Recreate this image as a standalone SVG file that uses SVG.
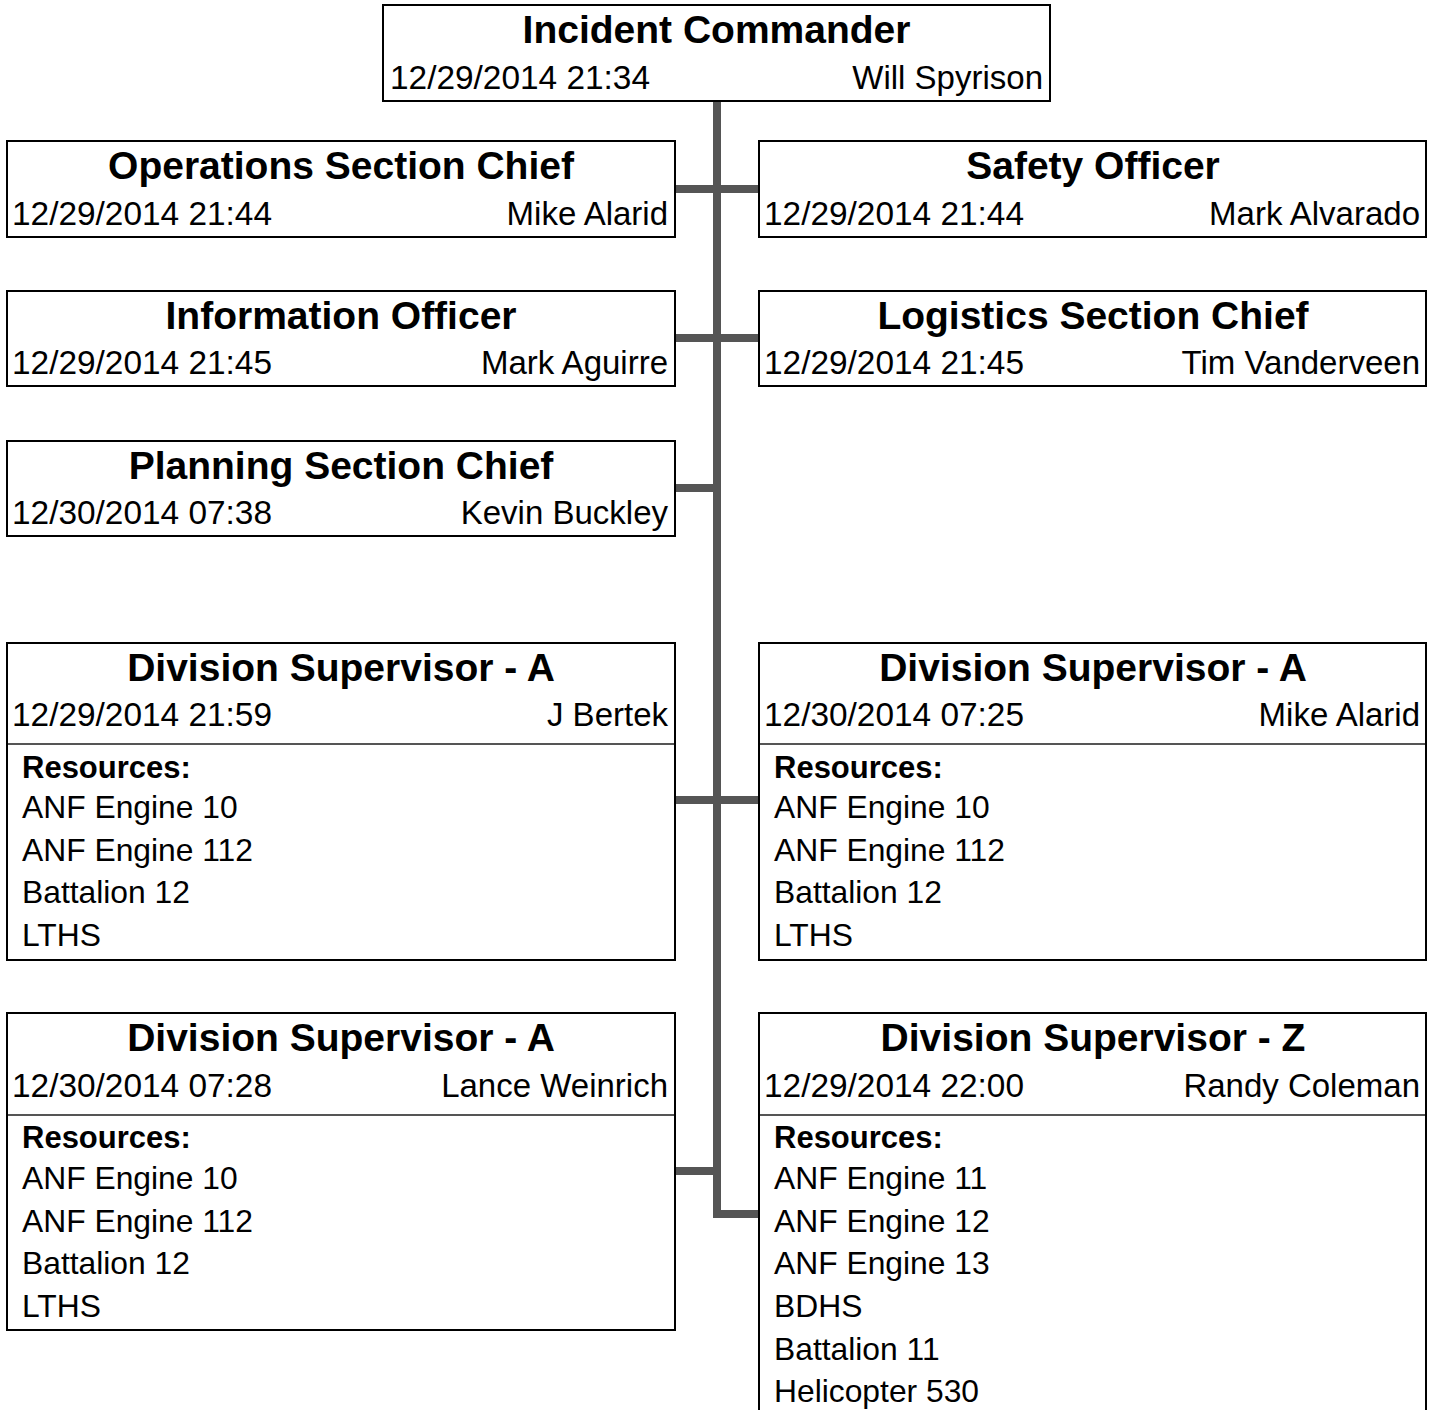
<svg xmlns="http://www.w3.org/2000/svg" width="1433" height="1410" viewBox="0 0 1433 1410">
<style>
.box{fill:#fff;stroke:#000;stroke-width:2}
.div{stroke:#555;stroke-width:2}
.t{font-family:"Liberation Sans",Arial,sans-serif;font-weight:bold;font-size:39px;text-anchor:middle;fill:#000}
.d{font-family:"Liberation Sans",Arial,sans-serif;font-size:33.4px;fill:#000}
.n{font-family:"Liberation Sans",Arial,sans-serif;font-size:33px;text-anchor:end;fill:#000}
.r{font-family:"Liberation Sans",Arial,sans-serif;font-weight:bold;font-size:31px;fill:#000}
.i{font-family:"Liberation Sans",Arial,sans-serif;font-size:31.8px;fill:#000}
.c{fill:none;stroke:#555;stroke-width:8}
</style>
<rect width="1433" height="1410" fill="#fff"/>
<g id="connectors">
<path class="c" d="M717 101 V1214 H759"/>
<path class="c" d="M675 189 H759"/>
<path class="c" d="M675 338 H759"/>
<path class="c" d="M675 488 H717"/>
<path class="c" d="M675 800 H759"/>
<path class="c" d="M675 1171 H717"/>
</g>
<g id="incident-commander">
<rect class="box" x="383" y="5" width="667" height="96"/>
<text class="t" x="716.5" y="43">Incident Commander</text>
<text class="d" x="390" y="89">12/29/2014 21:34</text>
<text class="n" x="1043" y="89">Will Spyrison</text>
</g>
<g id="operations">
<rect class="box" x="7" y="141" width="668" height="96"/>
<text class="t" x="341" y="179">Operations Section Chief</text>
<text class="d" x="12" y="225">12/29/2014 21:44</text>
<text class="n" x="668" y="225">Mike Alarid</text>
</g>
<g id="safety">
<rect class="box" x="759" y="141" width="667" height="96"/>
<text class="t" x="1093" y="179">Safety Officer</text>
<text class="d" x="764" y="225">12/29/2014 21:44</text>
<text class="n" x="1420" y="225">Mark Alvarado</text>
</g>
<g id="information">
<rect class="box" x="7" y="291" width="668" height="95"/>
<text class="t" x="341" y="329">Information Officer</text>
<text class="d" x="12" y="374">12/29/2014 21:45</text>
<text class="n" x="668" y="374">Mark Aguirre</text>
</g>
<g id="logistics">
<rect class="box" x="759" y="291" width="667" height="95"/>
<text class="t" x="1093" y="329">Logistics Section Chief</text>
<text class="d" x="764" y="374">12/29/2014 21:45</text>
<text class="n" x="1420" y="374">Tim Vanderveen</text>
</g>
<g id="planning">
<rect class="box" x="7" y="441" width="668" height="95"/>
<text class="t" x="341" y="479">Planning Section Chief</text>
<text class="d" x="12" y="524">12/30/2014 07:38</text>
<text class="n" x="668" y="524">Kevin Buckley</text>
</g>
<g id="div-a-bertek">
<rect class="box" x="7" y="643" width="668" height="317"/>
<line class="div" x1="8" y1="744" x2="674" y2="744"/>
<text class="t" x="341" y="681">Division Supervisor - A</text>
<text class="d" x="12" y="726">12/29/2014 21:59</text>
<text class="n" x="668" y="726">J Bertek</text>
<text class="r" x="22" y="778">Resources:</text>
<text class="i" x="22" y="818">ANF Engine 10</text>
<text class="i" x="22" y="861">ANF Engine 112</text>
<text class="i" x="22" y="903">Battalion 12</text>
<text class="i" x="22" y="946">LTHS</text>
</g>
<g id="div-a-alarid">
<rect class="box" x="759" y="643" width="667" height="317"/>
<line class="div" x1="760" y1="744" x2="1425" y2="744"/>
<text class="t" x="1093" y="681">Division Supervisor - A</text>
<text class="d" x="764" y="726">12/30/2014 07:25</text>
<text class="n" x="1420" y="726">Mike Alarid</text>
<text class="r" x="774" y="778">Resources:</text>
<text class="i" x="774" y="818">ANF Engine 10</text>
<text class="i" x="774" y="861">ANF Engine 112</text>
<text class="i" x="774" y="903">Battalion 12</text>
<text class="i" x="774" y="946">LTHS</text>
</g>
<g id="div-a-weinrich">
<rect class="box" x="7" y="1013" width="668" height="317"/>
<line class="div" x1="8" y1="1115" x2="674" y2="1115"/>
<text class="t" x="341" y="1051">Division Supervisor - A</text>
<text class="d" x="12" y="1097">12/30/2014 07:28</text>
<text class="n" x="668" y="1097">Lance Weinrich</text>
<text class="r" x="22" y="1148">Resources:</text>
<text class="i" x="22" y="1189">ANF Engine 10</text>
<text class="i" x="22" y="1232">ANF Engine 112</text>
<text class="i" x="22" y="1274">Battalion 12</text>
<text class="i" x="22" y="1317">LTHS</text>
</g>
<g id="div-z-coleman">
<rect class="box" x="759" y="1013" width="667" height="420"/>
<line class="div" x1="760" y1="1115" x2="1425" y2="1115"/>
<text class="t" x="1093" y="1051">Division Supervisor - Z</text>
<text class="d" x="764" y="1097">12/29/2014 22:00</text>
<text class="n" x="1420" y="1097">Randy Coleman</text>
<text class="r" x="774" y="1148">Resources:</text>
<text class="i" x="774" y="1189">ANF Engine 11</text>
<text class="i" x="774" y="1232">ANF Engine 12</text>
<text class="i" x="774" y="1274">ANF Engine 13</text>
<text class="i" x="774" y="1317">BDHS</text>
<text class="i" x="774" y="1360">Battalion 11</text>
<text class="i" x="774" y="1402">Helicopter 530</text>
</g>
</svg>
